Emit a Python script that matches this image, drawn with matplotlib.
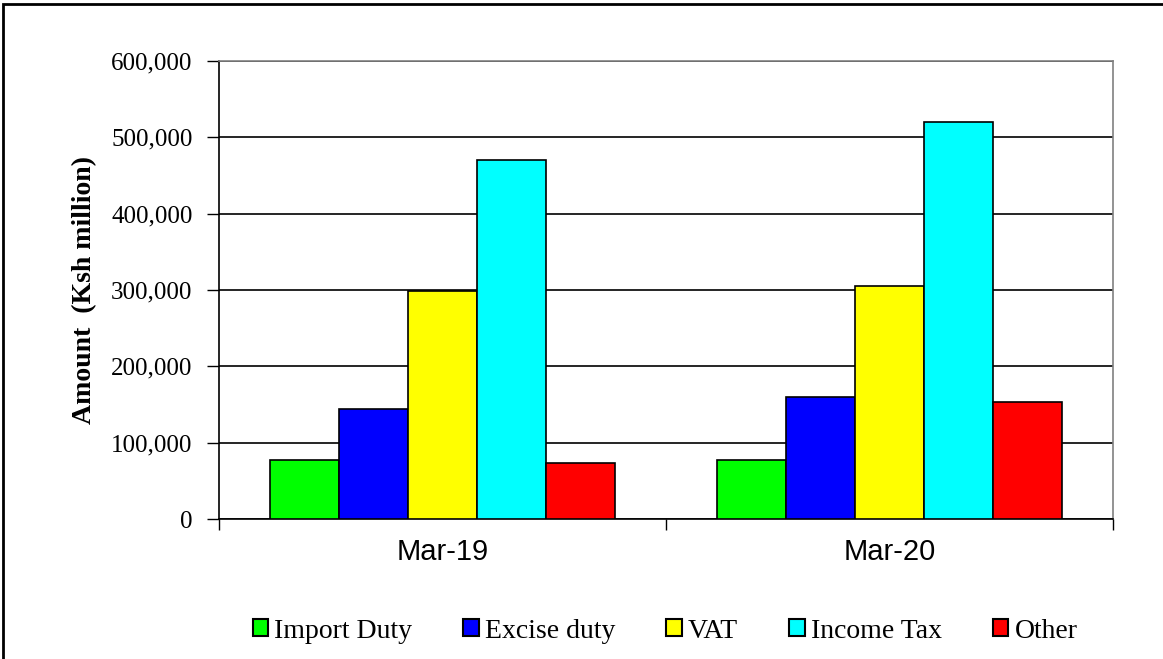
import matplotlib
matplotlib.use("Agg")
import matplotlib.pyplot as plt
import numpy as np
from matplotlib.patches import Rectangle

categories = ["Mar-19", "Mar-20"]
series_names = ["Import Duty", "Excise duty", "VAT", "Income Tax", "Other"]
import_duty = [77300, 77300]
excise_duty = [144000, 160000]
vat = [298700, 305500]
income_tax = [470500, 520000]
other = [73500, 153500]
colors = ["#00ff00", "#0000ff", "#ffff00", "#00ffff", "#ff0000"]
yticks = [0, 100000, 200000, 300000, 400000, 500000, 600000]

series = [import_duty, excise_duty, vat, income_tax, other]

fig = plt.figure(figsize=(11.63, 6.59), dpi=100)
ax = fig.add_axes([219/1163, 1-519/659, (1113-219)/1163, (519-61)/659])

x = np.arange(len(categories))
group = 0.77
w = group / len(series)
for i, (name, vals, c) in enumerate(zip(series_names, series, colors)):
    ax.bar(x - group/2 + w*(i+0.5), vals, width=w, color=c, edgecolor="black",
           linewidth=1.2, label=name, zorder=3)

ax.set_xlim(-0.5, 1.5)
ax.set_ylim(0, 600000)
ax.set_yticks(yticks)
ax.set_yticklabels([f"{v:,}" for v in yticks], fontfamily="Liberation Serif", fontsize=18)
ax.yaxis.grid(True, color="black", linewidth=1.2, zorder=0)
ax.set_xticks([-0.5, 0.5, 1.5])
ax.set_xticklabels(["", "", ""])
ax.set_xticks(x, minor=True)
ax.set_xticklabels(categories, minor=True, fontfamily="Liberation Sans", fontsize=21)
ax.tick_params(axis="x", which="minor", length=0, pad=14)
ax.tick_params(axis="x", which="major", length=8, width=1, direction="out")
ax.tick_params(axis="y", length=9, width=1, direction="out", pad=10)
for s in ["left", "bottom"]:
    ax.spines[s].set_color("black")
    ax.spines[s].set_linewidth(1.2)
for s in ["right", "top"]:
    ax.spines[s].set_color("#808080")
    ax.spines[s].set_linewidth(1.2)
ax.set_ylabel("Amount  (Ksh million)", fontfamily="Liberation Serif", fontweight="bold",
              fontsize=20, labelpad=10)

leg = ax.legend(loc="center", bbox_to_anchor=(665/1163, (659-631)/659), bbox_transform=fig.transFigure,
                ncol=5, frameon=False, handlelength=0.55, handleheight=0.55, handletextpad=0.22,
                columnspacing=1.85, prop={"family": "Liberation Serif", "size": 20})
for h in leg.legend_handles:
    h.set_linewidth(1.5)

fig.patches.append(Rectangle((3/1163, -0.1), 1.2, 1-3.5/659+0.1, transform=fig.transFigure,
                             fill=False, edgecolor="black", linewidth=2))

fig.savefig("out.png", dpi=100)
